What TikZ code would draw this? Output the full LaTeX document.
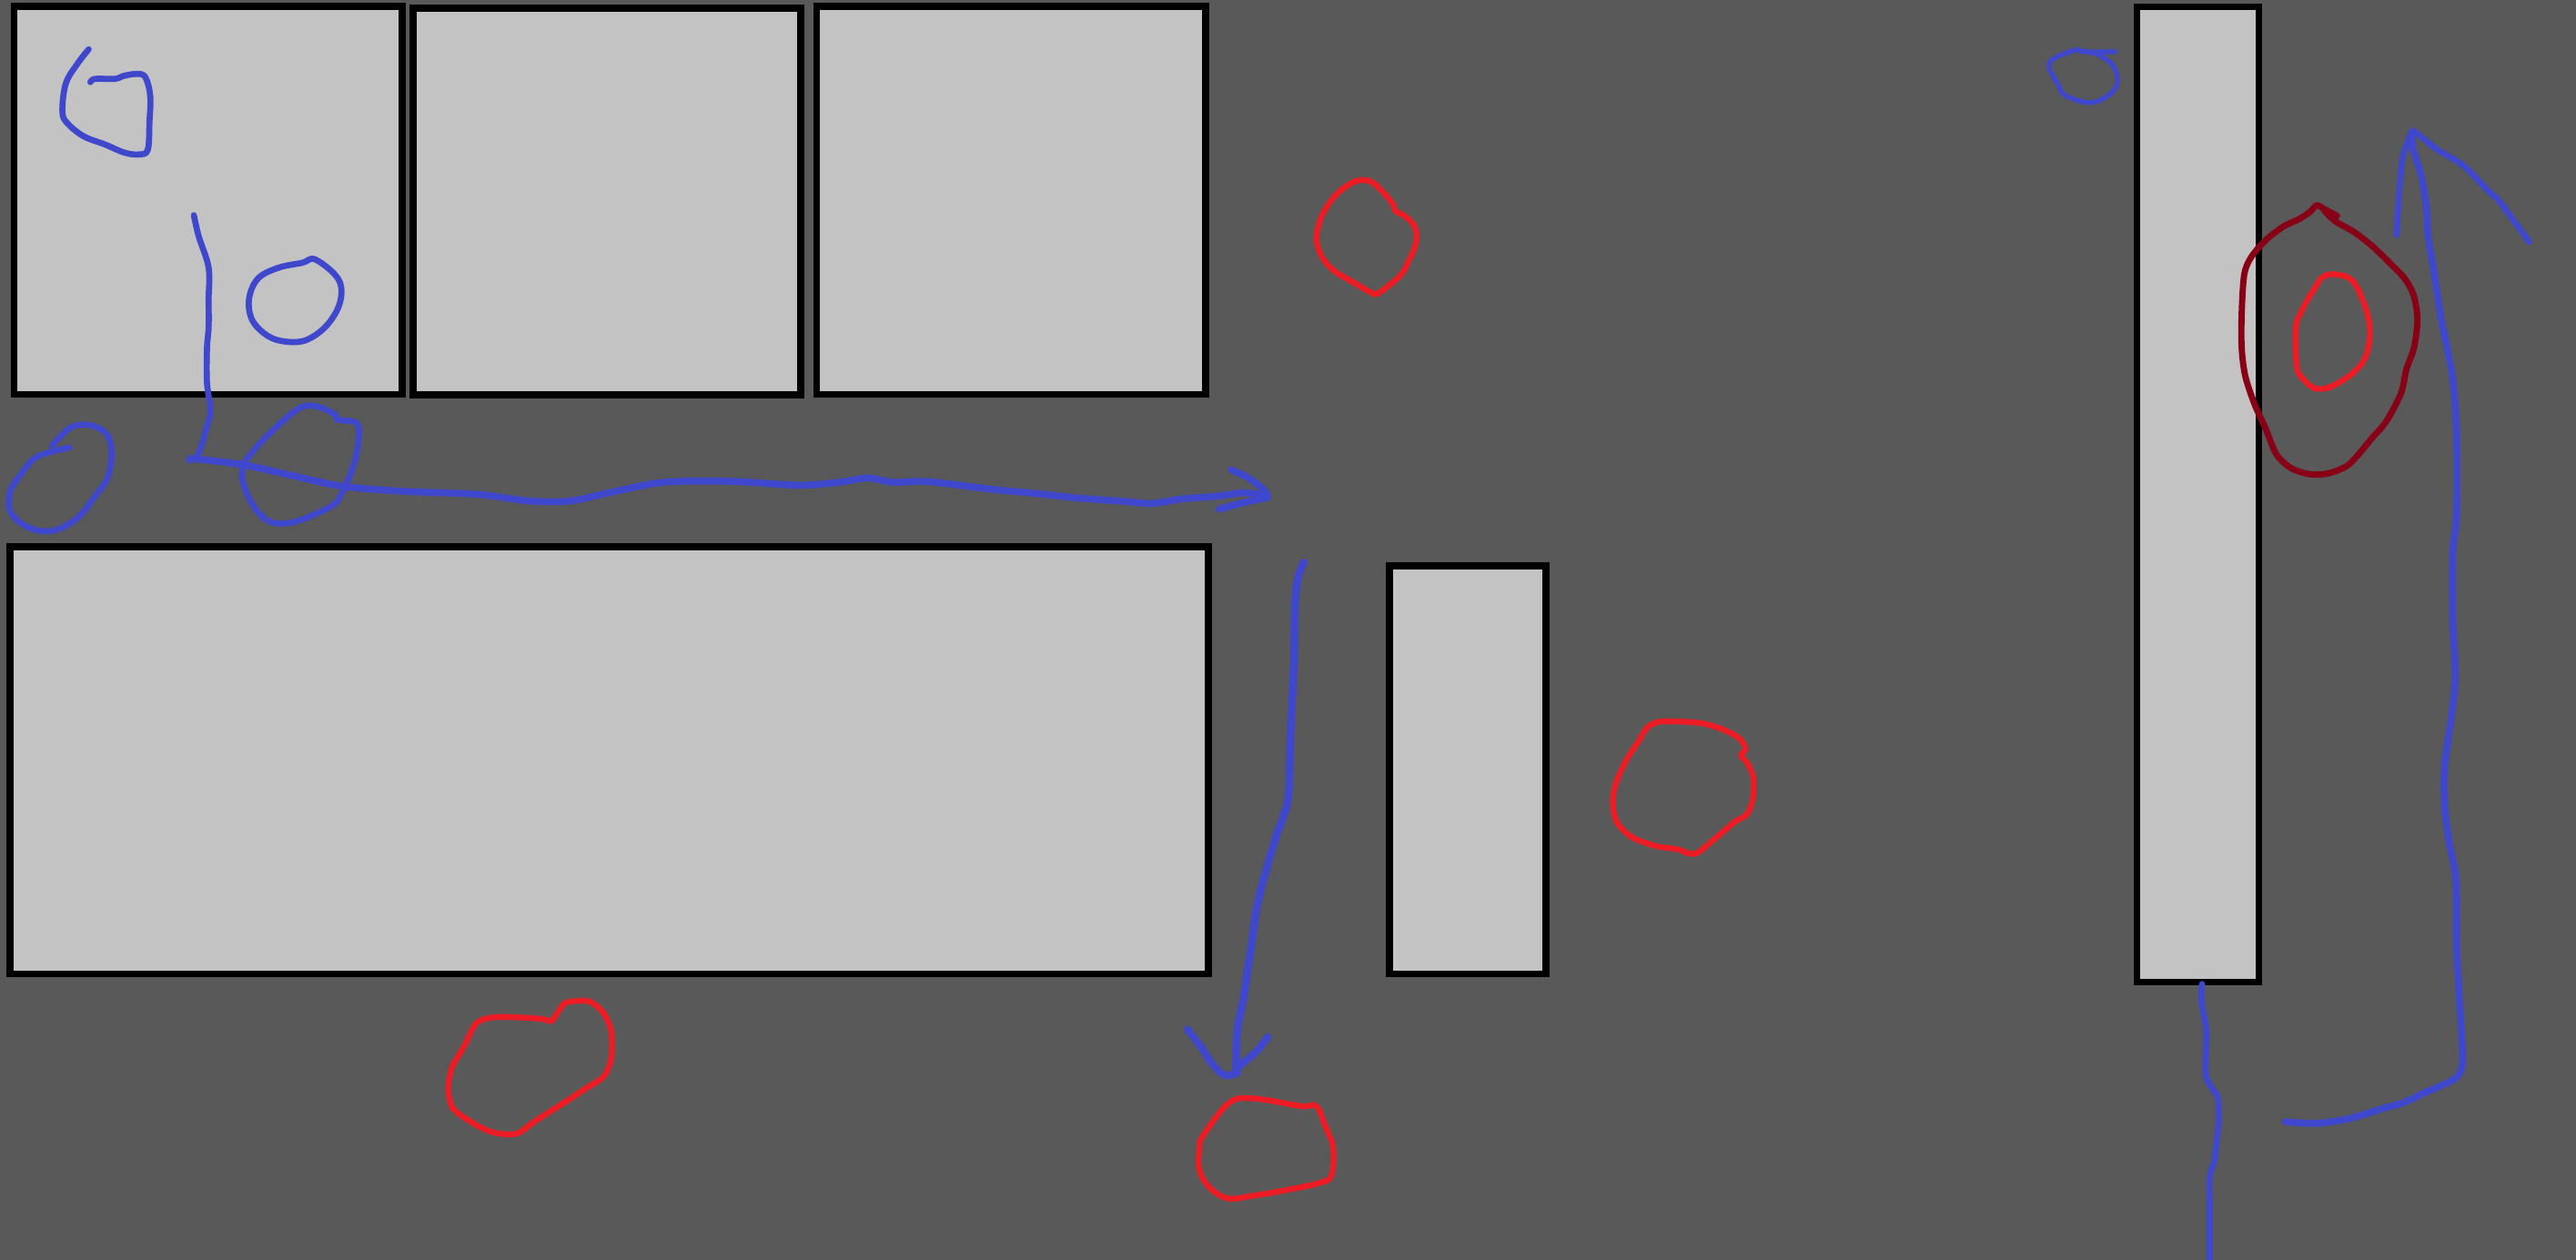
\documentclass[tikz,border=0pt]{standalone}
\definecolor{backgray}{HTML}{595959}
\definecolor{roomgray}{HTML}{C3C3C3}
\definecolor{penblue}{HTML}{3F48CC}
\definecolor{penred}{HTML}{ED1C24}
\definecolor{pendarkred}{HTML}{880015}
\begin{document}
\begin{tikzpicture}[x=0.1mm, y=-0.1mm,
    room/.style={draw=black, fill=roomgray, line width=0.42mm},
    bluepen/.style={draw=penblue, line width=0.37mm, line cap=round, line join=round},
    redpen/.style={draw=penred, line width=0.35mm, line cap=round, line join=round},
    darkpen/.style={draw=pendarkred, line width=0.38mm, line cap=round, line join=round}]
    \fill[backgray] (0,0) rectangle (1568,767);
    \useasboundingbox (0,0) rectangle (1568,767);
    % rooms
    \draw[room] (8.5,3.8) rectangle (244.8,240.2);
    \draw[room] (251.5,5) rectangle (487.5,240.5);
    \draw[room] (497,4) rectangle (734,240);
    \draw[room] (6,333) rectangle (735.5,593);
    \draw[room] (845.7,344.5) rectangle (941,593);
    \draw[room] (1300.7,4.2) rectangle (1375,598);
    % blue marks, left
    \draw[bluepen] plot[smooth, tension=0.6] coordinates {(54,30) (47,39) (40,51) (38,68) (41,75) (51,83) (64,88) (76,93) (85,94) (90,91) (91,74) (91.5,59) (89,48) (85,45) (76,46) (70,48) (58,48) (55,50)};
    \draw[bluepen] plot[smooth cycle, tension=0.6] coordinates {(192,158) (206,170) (207,184) (199,198) (186.5,207) (174,208) (163,204.5) (153.6,195) (151.6,182) (157,169.6) (169.5,163) (184,160)};
    \draw[bluepen] plot[smooth, tension=0.6] coordinates {(118,131) (121,144) (127,163) (127,182) (127,199) (126,212) (126,233) (128,250) (125,263) (120,278) (115,280)};
    \draw[bluepen] plot[smooth, tension=0.6] coordinates {(31.8,271.3) (42.4,260.7) (53,258.6) (63.6,262.8) (67.8,273.4) (65.7,290.3) (57.2,303) (46.6,315.8) (31.8,323.2) (17,321) (6.4,311.6) (6.4,298.9) (14.8,286) (23.3,277.7) (42.4,272.4)};
    \draw[bluepen] plot[smooth, tension=0.6] coordinates {(148.3,282) (161,267) (180,250) (190.7,247) (203.5,252) (205.6,255.5) (217,257.5) (218.3,267) (215,284) (207.7,301) (203.4,307) (192.8,312.6) (178,318) (165.3,318) (156.9,311.6) (150.5,301) (147.3,290) (148.3,282)};
    % long arrow to the right
    \draw[bluepen, line width=0.42mm] plot[smooth, tension=0.5] coordinates {(116,279) (148,283) (180,290) (208,296) (244,299) (291,301) (322,305) (347,305) (373,299.5) (404,293.6) (444,293) (486,295.4) (511,293.6) (528,291) (544,293.6) (565,293.2) (602,297.7) (630,300.4) (656,303.2) (684,305.2) (701,306.5) (720,303.7) (742,302) (757,300) (771.6,302)};
    \draw[bluepen, line width=0.42mm] plot[smooth, tension=0.6] coordinates {(749.5,286) (760,291) (769,298) (771.6,302)};
    \draw[bluepen, line width=0.42mm] plot[smooth, tension=0.6] coordinates {(742,310) (757,306) (771.6,303)};
    % arrow down
    \draw[bluepen, line width=0.47mm] plot[smooth, tension=0.5] coordinates {(793.5,342.5) (790.1,351.8) (788.3,367.4) (787.4,408) (785.5,448.6) (784.6,479.8) (782.8,492.3) (777.2,507.9) (769.8,532.9) (765.2,551.6) (761.5,576.6) (756.9,607.8) (753.2,626.6) (752.3,651.5)};
    \draw[bluepen, line width=0.45mm] plot[smooth, tension=0.6] coordinates {(722.8,626.6) (731.1,637.5) (738.5,648.4) (745.8,654.7) (753.2,653.1)};
    \draw[bluepen, line width=0.45mm] plot[smooth, tension=0.6] coordinates {(771.7,631.3) (764.3,640.6) (755.1,648.4) (752.5,652)};
    % red marks
    \draw[redpen] plot[smooth cycle, tension=0.6] coordinates {(827,109.8) (836.3,111.7) (847.4,123.6) (849,128) (855.7,132) (861.3,138.5) (862,147.7) (857.5,158.8) (853,167) (845.6,173.6) (838,179) (834.5,178) (823.4,171.7) (812.3,165) (805,156.9) (801.3,145.8) (804,132.9) (810.4,121.9) (817.9,114.5)};
    \draw[redpen] plot[smooth cycle, tension=0.6] coordinates {(732,692) (747.7,671.8) (762.5,668.7) (792,673.4) (801.2,673.4) (806.8,685.9) (811.4,698.4) (810.4,715.5) (803.1,720.2) (780.9,724.9) (762.5,728) (747.7,729.6) (736.6,723.3) (730.1,712.4) (730.1,698.4)};
    \draw[redpen] plot[smooth cycle, tension=0.5] coordinates {(336,621.3) (343.4,611.1) (352.6,609.3) (360,610.2) (367.4,616.7) (372,627.7) (372,644.4) (367.4,655.4) (356.3,662.8) (345.2,670.2) (337.8,674.8) (324.9,683.1) (314.8,690.1) (302.8,690) (293.5,686.8) (282.5,680.3) (275.1,673.9) (272.9,662.8) (275.1,649.9) (282.5,637) (289.8,623.1) (300,619.4) (315.7,619.4) (330.5,620.4)};
    \draw[redpen] plot[smooth cycle, tension=0.5] coordinates {(1009.9,439.4) (1024.6,439.4) (1035.7,440.3) (1048.6,444) (1058.8,449.6) (1062.5,456) (1059.7,459.7) (1063.4,464.3) (1067.1,472.7) (1067.1,485.6) (1063.4,495.7) (1056,500.3) (1045,509.6) (1033.9,518.8) (1028.3,519.7) (1020.9,517) (1008,515.1) (993.3,509.6) (984,500.3) (981.8,489.3) (983.1,478.2) (989.6,463.4) (997.9,450.5) (1002.5,443.1)};
    % right side
    \draw[bluepen, line width=0.3mm] plot[smooth, tension=0.6] coordinates {(1287.5,31.5) (1268,31.5) (1263,30.5) (1247.5,38.2) (1253,51.9) (1257.5,58.3) (1272,62.5) (1283,58.3) (1288.7,50.9) (1286.5,40.3) (1276.5,33) (1266,31)};
    \draw[darkpen] plot[smooth, tension=0.5] coordinates {(1422.5,131.4) (1414.6,127.2) (1410.2,125) (1405.7,129.3) (1399,133.6) (1390.1,137.8) (1379,146.3) (1370,157) (1366,167.5) (1364.5,190.8) (1364.5,212) (1366.7,229) (1372.3,246) (1379,260.8) (1385.7,276.7) (1394.6,285) (1405.7,288.7) (1416.9,288.3) (1428,284) (1434.7,277.7) (1443.6,267) (1452.5,256.5) (1461.4,239.6) (1464.8,224.7) (1469.3,212) (1471.5,195) (1469.3,180.2) (1463.7,169.6) (1452.5,158) (1443.6,149.5) (1432.5,141) (1421.3,134.6) (1414.6,128)};
    \draw[redpen] plot[smooth cycle, tension=0.6] coordinates {(1415.8,167.5) (1430.3,169.6) (1438,182.3) (1442.5,199.3) (1440.3,216.2) (1432.5,226.8) (1419.1,235.3) (1409.1,236.4) (1401.3,230) (1398,222.6) (1397.5,199.3) (1401.3,188.7) (1408,177)};
    \draw[bluepen, line width=0.42mm] plot[smooth, tension=0.5] coordinates {(1391,683) (1408,684) (1419,683) (1432.5,680.4) (1450,675) (1464,671) (1475,665.6) (1486,661) (1494,657) (1497,653.6) (1499,646) (1498,624) (1497,609) (1495.4,576) (1495,536) (1491,514) (1488,491) (1488,466) (1492,437.5) (1494.5,412) (1493,378) (1493,336) (1495.4,313) (1495.4,265) (1492.6,228.4) (1486,194.5) (1481.6,166) (1478,144) (1477,127) (1474,108) (1469,91) (1468,80)};
    \draw[bluepen] plot[smooth, tension=0.5] coordinates {(1468,80) (1462.6,95.4) (1460.4,116.6) (1458.8,143.1)};
    \draw[bluepen] plot[smooth, tension=0.5] coordinates {(1468,80) (1470.4,80.6) (1483.8,91.2) (1499.4,100.7) (1515,116.6) (1521.7,123) (1539.5,147.3)};
    \draw[bluepen] plot[smooth, tension=0.5] coordinates {(1340.4,599.1) (1340,609.3) (1342.9,627.8) (1342.6,653.6) (1346.7,662.9) (1350,668.4) (1350.5,683.1) (1348.9,697.9) (1347.8,707.1) (1345.1,716.3) (1345.1,738.5) (1345.1,767)};
\end{tikzpicture}
\end{document}
